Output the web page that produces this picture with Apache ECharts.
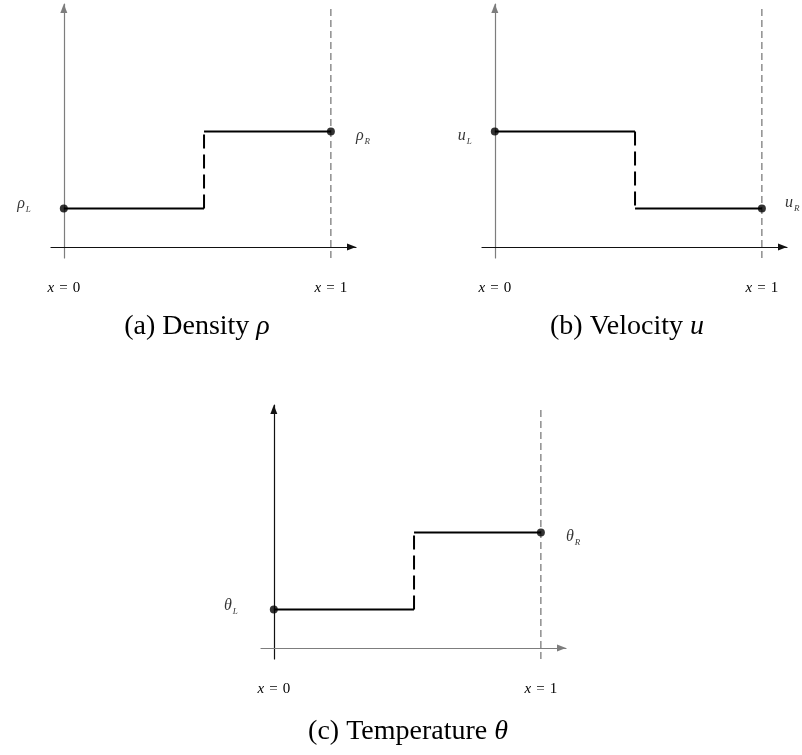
<!DOCTYPE html>
<html>
<head>
<meta charset="utf-8">
<script src="https://cdn.jsdelivr.net/npm/echarts@6/dist/echarts.min.js"></script>
<style>
  html, body { margin: 0; padding: 0; background: #fff; }
  #chart { width: 802px; height: 755px; }
</style>
</head>
<body>
<div id="chart"></div>
<script>
// Riemann problem initial states: left state on [0, x_s), right state on (x_s, 1]
const boundaryX = [0, 1];                 // domain ends x = 0 and x = 1
const interfaceX = [0.525, 0.525, 0.525]; // discontinuity location per panel
const densityValues = [1, 3];             // rho_L, rho_R
const velocityValues = [3, 1];            // u_L, u_R
const temperatureValues = [1, 3];         // theta_L, theta_R
const stateSymbols = ['ρ', 'u', 'θ'];
const captionWords = ['(a) Density ', '(b) Velocity ', '(c) Temperature '];
const tickLabels = ['0', '1'];

const panelValues = [densityValues, velocityValues, temperatureValues];

// layout of the three panels
const gridBoxes = [
  { left: 51,  top: 4,   width: 305, height: 254 },
  { left: 482, top: 4,   width: 305, height: 254 },
  { left: 261, top: 405, width: 305, height: 254 }
];
const xRange = { min: -0.048, max: 1.094 };
const yRange = { min: -0.286, max: 6.31 };
const yAxisColors = ['#7d7d7d', '#7d7d7d', '#111'];
const xAxisColors = ['#111', '#111', '#7d7d7d'];
const captionPos = [{ x: 197, y: 312 }, { x: 627, y: 312 }, { x: 408, y: 717 }];
const leftLabelOffsets = [[-3, -2], [0, 7], [0, -1]];
const rightLabelOffsets = [[0, 7], [0, -3], [0, 7]];
const leftLabelDist = [26, 19, 32];
const rightLabelDist = [21, 19, 21];

const serif = 'Liberation Serif, Times New Roman, serif';
const stateRich = {
  m: { fontFamily: serif, fontStyle: 'italic', fontSize: 16, color: '#000', lineHeight: 16, padding: [0, 0, 5, 0] },
  s: { fontFamily: serif, fontStyle: 'italic', fontSize: 9, color: '#000', lineHeight: 10, verticalAlign: 'bottom', padding: [0, 0, 0, 1] }
};
const tickRich = {
  i: { fontFamily: serif, fontStyle: 'italic', fontSize: 15, color: '#000' }
};

const grid = [], xAxis = [], yAxis = [], series = [], title = [];

gridBoxes.forEach(function (box, i) {
  grid.push(Object.assign({ containLabel: false }, box));

  xAxis.push({
    type: 'value', gridIndex: i, min: xRange.min, max: xRange.max,
    splitLine: { show: false }, axisTick: { show: false },
    axisLine: {
      onZero: true,
      symbol: ['none', 'triangle'], symbolSize: [7, 9], symbolOffset: [0, -4.5],
      lineStyle: { color: xAxisColors[i], width: 1.2 }
    },
    axisLabel: {
      customValues: boundaryX,
      margin: 23,
      formatter: function (v) {
        return '{i|x}\u2004=\u2004' + tickLabels[boundaryX.indexOf(v)];
      },
      fontFamily: serif, fontSize: 15, color: '#000',
      rich: tickRich
    }
  });

  yAxis.push({
    type: 'value', gridIndex: i, min: yRange.min, max: yRange.max,
    splitLine: { show: false }, axisTick: { show: false }, axisLabel: { show: false },
    axisLine: {
      onZero: true,
      symbol: ['none', 'triangle'], symbolSize: [7, 9], symbolOffset: [0, -4.5],
      lineStyle: { color: yAxisColors[i], width: 1.2 }
    }
  });

  const vals = panelValues[i];
  const xs = interfaceX[i];

  // boundary line x = 1
  series.push({
    type: 'line', xAxisIndex: i, yAxisIndex: i, symbol: 'none', silent: true,
    data: [[boundaryX[1], yRange.min], [boundaryX[1], 6.28]],
    lineStyle: { color: '#555', width: 1, type: [7, 4] }, z: 1
  });
  // left and right constant states
  series.push({
    type: 'line', xAxisIndex: i, yAxisIndex: i, symbol: 'none', silent: true,
    data: [[boundaryX[0], vals[0]], [xs, vals[0]]],
    lineStyle: { color: '#000', width: 2 }, z: 3
  });
  series.push({
    type: 'line', xAxisIndex: i, yAxisIndex: i, symbol: 'none', silent: true,
    data: [[xs, vals[1]], [boundaryX[1], vals[1]]],
    lineStyle: { color: '#000', width: 2 }, z: 3
  });
  // jump at the discontinuity
  series.push({
    type: 'line', xAxisIndex: i, yAxisIndex: i, symbol: 'none', silent: true,
    data: [[xs, vals[0]], [xs, vals[1]]],
    lineStyle: { color: '#000', width: 2, type: [14, 6] }, z: 3
  });
  // end-state markers with their labels
  series.push({
    type: 'scatter', xAxisIndex: i, yAxisIndex: i, symbolSize: 8, silent: true,
    itemStyle: { color: '#000' }, z: 5,
    data: [
      {
        value: [boundaryX[0], vals[0]],
        label: {
          show: true, position: 'left', distance: leftLabelDist[i], offset: leftLabelOffsets[i],
          formatter: '{m|' + stateSymbols[i] + '}{s|L}', rich: stateRich
        }
      },
      {
        value: [boundaryX[1], vals[1]],
        label: {
          show: true, position: 'right', distance: rightLabelDist[i], offset: rightLabelOffsets[i],
          formatter: '{m|' + stateSymbols[i] + '}{s|R}', rich: stateRich
        }
      }
    ]
  });

  title.push({
    text: captionWords[i] + '{g|' + stateSymbols[i] + '}',
    left: captionPos[i].x, top: captionPos[i].y, textAlign: 'center', padding: 0,
    textStyle: {
      fontFamily: serif, fontSize: 28, fontWeight: 'normal', color: '#000', lineHeight: 30,
      rich: { g: { fontFamily: serif, fontStyle: 'italic', fontSize: 28, color: '#000', lineHeight: 30 } }
    }
  });
});

const chart = echarts.init(document.getElementById('chart'), null, { renderer: 'canvas' });
chart.setOption({
  backgroundColor: '#fff',
  animation: false,
  title: title,
  grid: grid,
  xAxis: xAxis,
  yAxis: yAxis,
  series: series
});
</script>
</body>
</html>
